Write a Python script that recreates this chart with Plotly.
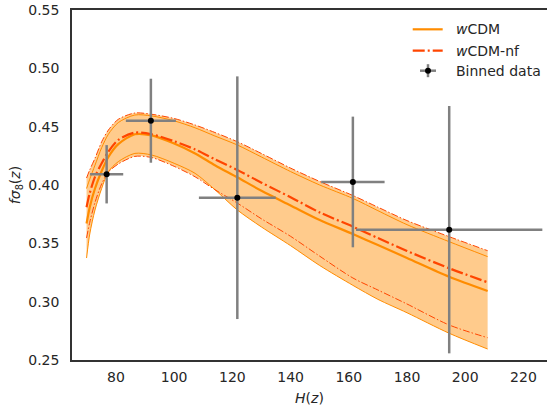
import numpy as np
import plotly.graph_objects as go

# ---------------- data ----------------
H_grid = [69.9, 71.0, 72.8, 75.1, 77.4, 80.8, 86.5, 92.3, 100.0, 107.2, 114.0,
          121.7, 130.0, 140.0, 150.0, 161.4, 170.0, 180.0, 194.5, 207.7]

wcdm_mean = [0.367, 0.381, 0.397, 0.412, 0.424, 0.435, 0.4435, 0.4425, 0.4355, 0.427, 0.417,
             0.4066, 0.395, 0.3825, 0.370, 0.358, 0.3485, 0.3375, 0.3214, 0.3092]
wcdm_upper = [0.397, 0.405, 0.417, 0.432, 0.4435, 0.4535, 0.4600, 0.4592, 0.455, 0.449, 0.442,
              0.4343, 0.424, 0.4115, 0.400, 0.3885, 0.378, 0.366, 0.3514, 0.3386]
wcdm_lower = [0.3374, 0.358, 0.3786, 0.3971, 0.4114, 0.420, 0.4271, 0.4257, 0.4186, 0.410, 0.396,
              0.3786, 0.364, 0.348, 0.331, 0.314, 0.302, 0.2905, 0.2729, 0.2594]

nf_mean = [0.381, 0.393, 0.407, 0.4186, 0.4286, 0.4386, 0.4449, 0.4435, 0.4375, 0.4305, 0.422,
           0.4129, 0.402, 0.3895, 0.3765, 0.3643, 0.3545, 0.3435, 0.3286, 0.3166]
nf_upper = [0.406, 0.413, 0.4229, 0.4371, 0.4471, 0.4563, 0.4617, 0.4606, 0.457, 0.4514, 0.445,
            0.4371, 0.427, 0.4145, 0.403, 0.391, 0.381, 0.3695, 0.3557, 0.3437]
nf_lower = [0.3546, 0.368, 0.385, 0.401, 0.411, 0.418, 0.4245, 0.4235, 0.416, 0.407, 0.396,
            0.3845, 0.371, 0.356, 0.339, 0.3203, 0.310, 0.298, 0.280, 0.2691]

bin_H = [76.8, 92.0, 121.7, 161.4, 194.5]
bin_fs8 = [0.4092, 0.4551, 0.3891, 0.4026, 0.3617]
bin_H_err = [5.7, 8.6, 13.2, 10.9, 32.0]
bin_fs8_err = [0.025, 0.036, 0.104, 0.056, 0.106]

x_ticks = [80, 100, 120, 140, 160, 180, 200, 220]
y_ticks = [0.25, 0.30, 0.35, 0.40, 0.45, 0.50, 0.55]

# ---------------- styles ----------------
C_SOLID = "#FF8C00"
C_NF = "#FF4500"
C_FILL = "rgba(255,140,0,0.45)"
C_ERR = "#808080"
TXT = "#262626"
FONT = "DejaVu Sans"
SHAPE = "spline"
SMOOTH = 0.8

fig = go.Figure()

env_top = np.maximum(wcdm_upper, nf_upper)
env_bot = np.minimum(wcdm_lower, nf_lower)
fig.add_trace(go.Scatter(x=H_grid, y=env_bot, mode="lines",
                         line=dict(width=0, shape=SHAPE, smoothing=SMOOTH),
                         showlegend=False, hoverinfo="skip"))
fig.add_trace(go.Scatter(x=H_grid, y=env_top, mode="lines",
                         line=dict(width=0, shape=SHAPE, smoothing=SMOOTH),
                         fill="tonexty", fillcolor=C_FILL, showlegend=False, hoverinfo="skip"))

thin_dd = "7px,2px,1.5px,2px"
thick_dd = "12px,3px,2px,3px"
for ys in (wcdm_upper, wcdm_lower):
    fig.add_trace(go.Scatter(x=H_grid, y=ys, mode="lines",
                             line=dict(color=C_SOLID, width=1, shape=SHAPE, smoothing=SMOOTH),
                             showlegend=False))
for ys in (nf_upper, nf_lower):
    fig.add_trace(go.Scatter(x=H_grid, y=ys, mode="lines",
                             line=dict(color=C_NF, width=1, dash=thin_dd, shape=SHAPE,
                                       smoothing=SMOOTH),
                             showlegend=False))
fig.add_trace(go.Scatter(x=H_grid, y=wcdm_mean, mode="lines",
                         line=dict(color=C_SOLID, width=2.2, shape=SHAPE, smoothing=SMOOTH),
                         showlegend=False))
fig.add_trace(go.Scatter(x=H_grid, y=nf_mean, mode="lines",
                         line=dict(color=C_NF, width=2.2, dash=thick_dd, shape=SHAPE,
                                   smoothing=SMOOTH),
                         showlegend=False))

fig.add_trace(go.Scatter(
    x=bin_H, y=bin_fs8, mode="markers",
    marker=dict(color="black", size=6),
    error_x=dict(type="data", array=bin_H_err, color=C_ERR, thickness=2.5, width=0),
    error_y=dict(type="data", array=bin_fs8_err, color=C_ERR, thickness=2.5, width=0),
    showlegend=False))

# ---------------- manual legend ----------------
L0, L1 = 0.7173, 0.7804
TX = 0.8042
rows = [0.9448, 0.8837, 0.8266]
shapes = [
    dict(type="line", xref="paper", yref="paper", x0=L0, x1=L1, y0=rows[0], y1=rows[0],
         line=dict(color=C_SOLID, width=2.2)),
    dict(type="line", xref="paper", yref="paper", x0=L0, x1=L1, y0=rows[1], y1=rows[1],
         line=dict(color=C_NF, width=2.2, dash=thick_dd)),
    dict(type="line", xref="paper", yref="paper", x0=(420 - 72) / 475, x1=(436 - 72) / 475,
         y0=rows[2], y1=rows[2], line=dict(color=C_ERR, width=2.5)),
    dict(type="line", xref="paper", yref="paper", x0=(428 - 72) / 475, x1=(428 - 72) / 475,
         y0=rows[2] - 6.5 / 350, y1=rows[2] + 6.5 / 350, line=dict(color=C_ERR, width=2.5)),
    dict(type="circle", xref="paper", yref="paper",
         x0=(425 - 72) / 475, x1=(431 - 72) / 475,
         y0=rows[2] - 3 / 350, y1=rows[2] + 3 / 350,
         fillcolor="black", line=dict(color="black", width=0)),
]
labels = ["<i>w</i>CDM", "<i>w</i>CDM-nf", "Binned data"]
annotations = [dict(xref="paper", yref="paper", x=TX, y=r, text=t, showarrow=False,
                    xanchor="left", yanchor="middle",
                    font=dict(family=FONT, size=14, color=TXT))
               for r, t in zip(rows, labels)]

fig.update_layout(
    width=547, height=413,
    margin=dict(l=72, r=0, t=10, b=53),
    plot_bgcolor="white", paper_bgcolor="white",
    font=dict(family=FONT, size=14, color=TXT),
    shapes=shapes, annotations=annotations,
    showlegend=False,
)
fig.update_xaxes(range=[64.9, 228.1], tickvals=x_ticks, showgrid=False, zeroline=False,
                 showline=True, linecolor="#333333", linewidth=1.5, mirror=True, ticks="",
                 ticklabelstandoff=3,
                 title=dict(text="<i>H</i>(<i>z</i>)", standoff=10,
                            font=dict(family=FONT, size=14, color=TXT)),
                 tickfont=dict(family=FONT, size=14, color=TXT))
fig.update_yaxes(range=[0.25, 0.55], tickvals=y_ticks, tickformat=".2f", showgrid=False,
                 zeroline=False, showline=True, linecolor="#333333", linewidth=1.5,
                 ticks="", ticklabelstandoff=8,
                 title=dict(text="<i>f</i><i>σ</i><sub>8</sub>(<i>z</i>)", standoff=4,
                            font=dict(family=FONT, size=14, color=TXT)),
                 tickfont=dict(family=FONT, size=14, color=TXT))

fig.write_html("out.html")
